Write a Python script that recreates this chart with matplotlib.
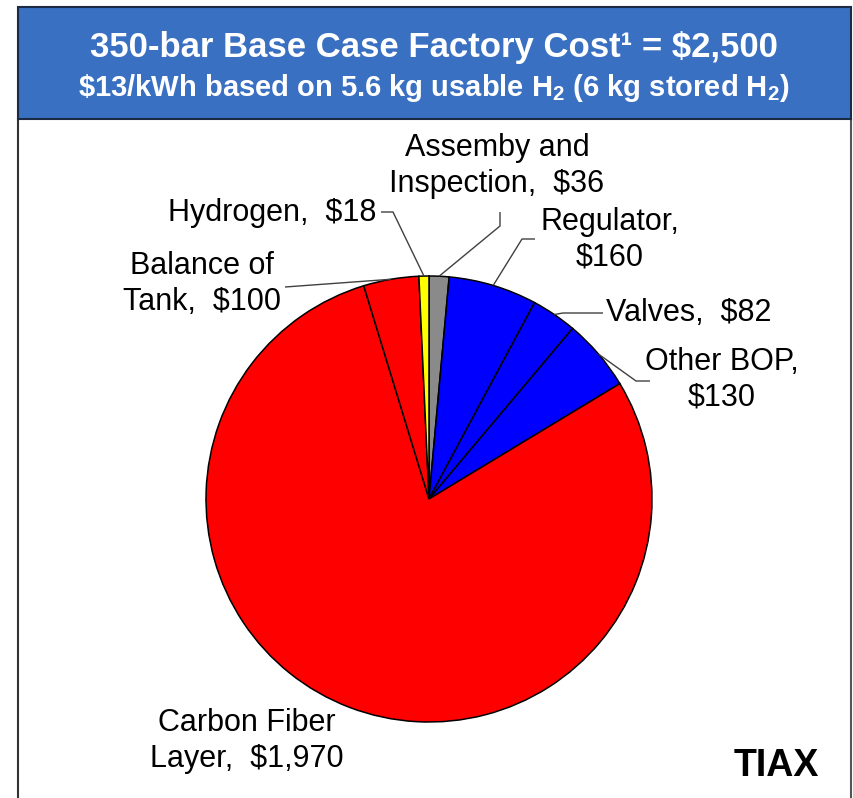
import matplotlib
matplotlib.use("Agg")
import matplotlib.pyplot as plt
import numpy as np
from matplotlib.patches import Rectangle

plt.rcParams["font.family"] = "Liberation Sans"
plt.rcParams["mathtext.fontset"] = "custom"
plt.rcParams["mathtext.rm"] = "Liberation Sans"
plt.rcParams["mathtext.bf"] = "Liberation Sans:bold"

W, H = 854, 798

# Cost breakdown, listed clockwise from 12 o'clock
components = ["Assembly and Inspection", "Regulator", "Valves", "Other BOP",
              "Carbon Fiber Layer", "Balance of Tank", "Hydrogen"]
costs = [36, 160, 82, 130, 1970, 100, 18]
label_text = ["Assemby and\nInspection,  $36", "Regulator,\n$160", "Valves,  $82",
              "Other BOP,\n$130", "Carbon Fiber\nLayer,  $1,970", "Balance of\nTank,  $100",
              "Hydrogen,  $18"]
colors = ["#8a8a8a", "#0000ff", "#0000ff", "#0000ff", "#ff0000", "#ff0000", "#ffff00"]

title_main = "350-bar Base Case Factory Cost\u00b9 = $2,500"
title_sub = r"\$13/kWh based on 5.6 kg usable H$_\mathbf{2}$ (6 kg stored H$_\mathbf{2}$)"


def fy(y):
    # layout is measured from the top of the figure
    return H - y


# label placement: (x, y, ha) and leader knee points, pixel layout
label_pos = [(497, 166, "center"), (610, 240, "center"), (606, 313, "left"),
             (722, 380, "center"), (247, 741, "center"), (202, 284, "center"),
             (376, 213, "right")]
leader_knees = [[(500, 212), (500, 226)], [(535, 239), (522, 239)],
                [(603, 313), (563, 313)], [(650, 381), (636, 381)], [],
                [(285, 287)], [(381, 212), (393, 212)]]

fig = plt.figure(figsize=(W / 100, H / 100), dpi=100)
ax = fig.add_axes([0, 0, 1, 1])

center = (429, fy(499))
radius = 223
wedges, _ = ax.pie(costs, colors=colors, startangle=90, counterclock=False,
                   center=center, radius=radius,
                   wedgeprops=dict(edgecolor="black", linewidth=1.1))
ax.set_xlim(0, W)
ax.set_ylim(0, H)
ax.set_aspect("equal")
ax.axis("off")

# leader lines from each label to the middle of its wedge
for w, knees in zip(wedges, leader_knees):
    if not knees:
        continue
    mid = np.deg2rad((w.theta1 + w.theta2) / 2)
    ex = center[0] + radius * np.cos(mid)
    ey = center[1] + radius * np.sin(mid)
    xs = [k[0] for k in knees] + [ex]
    ys = [fy(k[1]) for k in knees] + [ey]
    ax.plot(xs, ys, color="#404040", lw=1.0, solid_capstyle="butt")

for txt, (x, y, ha) in zip(label_text, label_pos):
    ax.text(x, fy(y), txt, ha=ha, va="center", fontsize=22, linespacing=1.24,
            multialignment="center", color="black")

# header band and outer frame
ax.add_patch(Rectangle((18, fy(119)), 833, 112, facecolor="#3a70c2",
                       edgecolor="#1b2a45", lw=1.5, zorder=3))
ax.plot([18, 18], [0, fy(119)], color="#333333", lw=1.5)
ax.plot([851, 851], [0, fy(119)], color="#555555", lw=1.5)

ax.text(434, fy(48), title_main, ha="center", va="center", fontsize=25,
        fontweight="bold", color="white", zorder=4)
ax.text(434, fy(88), title_sub, ha="center", va="center", fontsize=21,
        fontweight="bold", color="white", zorder=4)

ax.text(776, fy(766), "TIAX", ha="center", va="center", fontsize=27,
        fontweight="bold", family=["Liberation Sans Narrow", "Liberation Sans"],
        color="black")

fig.savefig("out.png", dpi=100)
